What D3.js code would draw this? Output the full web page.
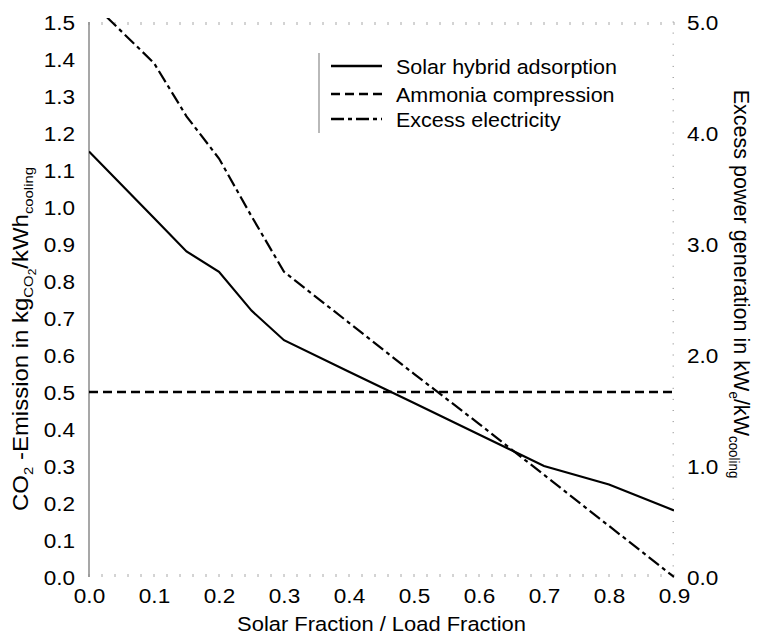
<!DOCTYPE html>
<html>
<head>
<meta charset="utf-8">
<script src="https://cdn.jsdelivr.net/npm/d3@7"></script>
<style>
	body { margin: 0; background: #fff; }
	svg text { font-family: "Liberation Sans", Arial, Helvetica, sans-serif; fill: #000; }
</style>
</head>
<body>
<svg id="chart" width="759" height="636"></svg>
<script>
'use strict';

//Series
var fractions = [0.0, 0.1, 0.15, 0.2, 0.25, 0.3, 0.4, 0.5, 0.6, 0.7, 0.8, 0.9];
var hybridCO2 = [1.15, 0.97, 0.88, 0.825, 0.72, 0.64, 0.555, 0.47, 0.385, 0.30, 0.25, 0.18];
var ammoniaFractions = [0.0, 0.9];
var ammoniaCO2 = [0.5, 0.5];
var excessPower = [5.2, 4.63, 4.15, 3.77, 3.25, 2.75, 2.29, 1.83, 1.38, 0.92, 0.46, 0.0];

//Tick labels
var xTicks = [0.0, 0.1, 0.2, 0.3, 0.4, 0.5, 0.6, 0.7, 0.8, 0.9];
var leftTicks = [0.0, 0.1, 0.2, 0.3, 0.4, 0.5, 0.6, 0.7, 0.8, 0.9, 1.0, 1.1, 1.2, 1.3, 1.4, 1.5];
var rightTicks = [0.0, 1.0, 2.0, 3.0, 4.0, 5.0];

var legendNames = ["Solar hybrid adsorption", "Ammonia compression", "Excess electricity"];
var legendDashes = [null, "9,5", "13,4,4,4"];

var xTitle = "Solar Fraction / Load Fraction";
//Title pieces: sub = subscript level
var leftTitle = [
	{ t: "CO", sub: 0 }, { t: "2", sub: 1 }, { t: " -Emission in kg", sub: 0 },
	{ t: "CO", sub: 1 }, { t: "2", sub: 2 }, { t: "/kWh", sub: 0 }, { t: "cooling", sub: 1 }
];
var rightTitle = [
	{ t: "Excess power generation in kW", sub: 0 }, { t: "e", sub: 1 },
	{ t: "/kW", sub: 0 }, { t: "cooling", sub: 1 }
];

//Layout
var plot = { left: 89, right: 674, top: 22, bottom: 577 };
var tickFont = 20.5;
var tickStretch = 1.1;

var svg = d3.select("#chart");

var x = d3.scaleLinear().domain([0, 0.9]).range([plot.left, plot.right]);
var yLeft = d3.scaleLinear().domain([0, 1.5]).range([plot.bottom, plot.top]);
var yRight = d3.scaleLinear().domain([0, 5]).range([plot.bottom, plot.top]);
var fmt = d3.format(".1f");

//Minor tick marks on top / bottom / right
var minorX = x.ticks(45);
var minorR = yRight.ticks(50);

var tickGroup = svg.append("g").attr("stroke", "#a8a8a8").attr("stroke-width", 1);

tickGroup.selectAll(".tb").data(minorX).enter().append("line")
	.attr("x1", function(d) { return x(d); })
	.attr("x2", function(d) { return x(d); })
	.attr("y1", plot.bottom - 3)
	.attr("y2", plot.bottom);

tickGroup.selectAll(".tt").data(minorX).enter().append("line")
	.attr("x1", function(d) { return x(d); })
	.attr("x2", function(d) { return x(d); })
	.attr("y1", plot.top)
	.attr("y2", plot.top + 3);

tickGroup.selectAll(".tr").data(minorR).enter().append("line")
	.attr("x1", plot.right - 1.5)
	.attr("x2", plot.right)
	.attr("y1", function(d) { return yRight(d); })
	.attr("y2", function(d) { return yRight(d); });

//Left axis line
svg.append("line")
	.attr("x1", plot.left).attr("x2", plot.left)
	.attr("y1", plot.top).attr("y2", plot.bottom)
	.attr("stroke", "#8a8a8a").attr("stroke-width", 1.5);

//Axes (labels only, marks drawn above)
var bottomAxis = svg.append("g")
	.attr("transform", "translate(0," + plot.bottom + ")")
	.call(d3.axisBottom(x).tickValues(xTicks).tickFormat(fmt).tickSize(0));

var leftAxis = svg.append("g")
	.attr("transform", "translate(" + plot.left + ",0)")
	.call(d3.axisLeft(yLeft).tickValues(leftTicks).tickFormat(fmt).tickSize(0));

var rightAxis = svg.append("g")
	.attr("transform", "translate(" + plot.right + ",0)")
	.call(d3.axisRight(yRight).tickValues(rightTicks).tickFormat(fmt).tickSize(0));

[bottomAxis, leftAxis, rightAxis].forEach(function(ax) {
	ax.select(".domain").remove();
	ax.attr("font-family", null).attr("font-size", null);
	ax.selectAll("text")
		.style("font-size", tickFont + "px")
		.attr("fill", "#000")
		.attr("transform", "scale(" + tickStretch + ",1)");
});

bottomAxis.selectAll("text").attr("y", 26.3).attr("dy", 0);
leftAxis.selectAll("text").attr("x", -14 / tickStretch).attr("dy", "0.36em");
rightAxis.selectAll("text").attr("x", 13 / tickStretch).attr("dy", "0.36em");

//Clip for curves leaving the top
svg.append("clipPath").attr("id", "plotClip")
	.append("rect")
	.attr("x", plot.left).attr("y", plot.top - 4)
	.attr("width", plot.right - plot.left).attr("height", plot.bottom - plot.top + 8);

var curves = svg.append("g").attr("clip-path", "url(#plotClip)").attr("fill", "none").attr("stroke", "#000");

var lineLeft = d3.line()
	.x(function(d) { return x(d[0]); })
	.y(function(d) { return yLeft(d[1]); });

var lineRight = d3.line()
	.x(function(d) { return x(d[0]); })
	.y(function(d) { return yRight(d[1]); });

curves.append("path")
	.attr("d", lineLeft(d3.zip(fractions, hybridCO2)))
	.attr("stroke-width", 2.2);

curves.append("path")
	.attr("d", lineLeft(d3.zip(ammoniaFractions, ammoniaCO2)))
	.attr("stroke-width", 2.4)
	.attr("stroke-dasharray", legendDashes[1]);

curves.append("path")
	.attr("d", lineRight(d3.zip(fractions, excessPower)))
	.attr("stroke-width", 2.2)
	.attr("stroke-dasharray", legendDashes[2]);

//Legend
var legendRows = [66, 94, 119];
var legend = svg.append("g");

legend.append("line")
	.attr("x1", 319).attr("x2", 319).attr("y1", 53).attr("y2", 133)
	.attr("stroke", "#8a8a8a").attr("stroke-width", 1.2);

var legendItem = legend.selectAll(".legend-item").data(legendNames).enter().append("g")
	.attr("transform", function(d, i) { return "translate(0," + legendRows[i] + ")"; });

legendItem.append("line")
	.attr("x1", 331).attr("x2", 382).attr("y1", 0).attr("y2", 0)
	.attr("stroke", "#000").attr("stroke-width", 2.6)
	.attr("stroke-dasharray", function(d, i) { return legendDashes[i]; });

var legendText = legendItem.append("text")
	.attr("y", 8)
	.style("font-size", "20.5px")
	.text(function(d) { return d; });

var legendStretch = 221 / legendText.node().getComputedTextLength();
legendText.attr("transform", "translate(396,0) scale(" + legendStretch + ",1)");

//Axis titles
var xTitleText = svg.append("text")
	.attr("text-anchor", "middle")
	.style("font-size", "20.5px")
	.text(xTitle);
xTitleText.attr("transform", "translate(" + (plot.left + plot.right) / 2 + ",630.5) scale(" +
	(289 / xTitleText.node().getComputedTextLength()) + ",1)");

var subSize = [1, 0.62, 0.5];
var subShift = [0, 5, 8];

var appendParts = function(textSel, parts, baseSize) {
	var level = 0;
	parts.forEach(function(p) {
		textSel.append("tspan")
			.attr("dy", subShift[p.sub] - subShift[level])
			.style("font-size", (baseSize * subSize[p.sub]) + "px")
			.text(p.t);
		level = p.sub;
	});
}

var leftTitleText = svg.append("text").attr("text-anchor", "middle");
appendParts(leftTitleText, leftTitle, 22);
leftTitleText.attr("transform", "translate(28,339) rotate(-90) scale(" +
	(344 / leftTitleText.node().getComputedTextLength()) + ",1)");

var rightTitleText = svg.append("text").attr("text-anchor", "middle");
appendParts(rightTitleText, rightTitle, 22.5);
rightTitleText.attr("transform", "translate(734,284) rotate(90) scale(" +
	(389 / rightTitleText.node().getComputedTextLength()) + ",1)");
</script>
</body>
</html>
